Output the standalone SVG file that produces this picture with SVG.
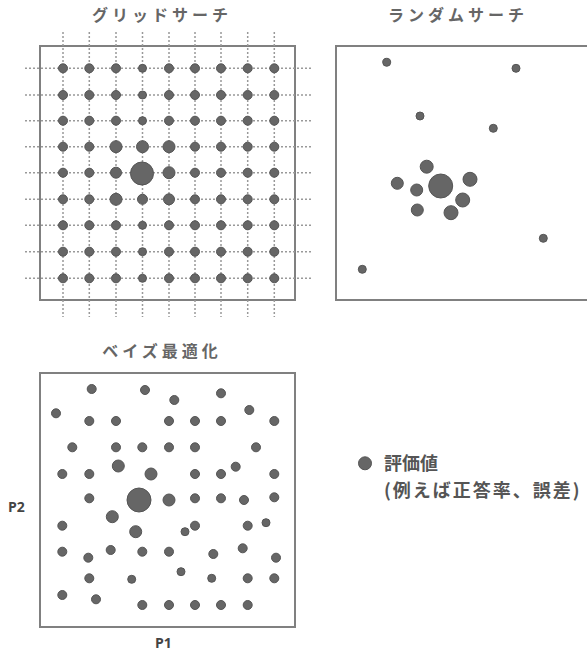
<svg xmlns="http://www.w3.org/2000/svg" width="587" height="654" viewBox="0 0 587 654">
<style>
.bg{fill:#fff}
.frame{fill:none;stroke:#808080;stroke-width:2}
.gl{stroke:#999;stroke-width:1.5;stroke-dasharray:2 2;fill:none}
.d{fill:#666;stroke:#555;stroke-width:1}
.title{font-family:"Noto Sans CJK JP","Noto Sans",sans-serif;font-size:16px;font-weight:700;fill:#666;letter-spacing:4px;text-anchor:middle}
.ax{font-family:"Open Sans","Liberation Sans",sans-serif;font-size:14px;font-weight:700;fill:#444}
.lg{font-family:"Noto Sans CJK JP",sans-serif;font-size:18px;font-weight:700;fill:#555}
</style>
<rect class="bg" x="0" y="0" width="587" height="654"/>

<g id="grid-search">
<text class="title" x="162" y="21">グリッドサーチ</text>
<rect class="frame" x="40" y="46" width="255" height="254"/>
<g id="grid-lines">
<path class="gl" d="M63,32V317M89.3,32V317M116,32V317M142.5,32V317M169,32V317M195,32V317M221,32V317M247.7,32V317M274.3,32V317"/>
<path class="gl" d="M25,68.3H313M25,95H313M25,120.7H313M25,146.7H313M25,172.7H313M25,199.3H313M25,225.3H313M25,251.7H313M25,278.3H313"/>
</g>
<g id="grid-dots">
<circle class="d" cx="63" cy="68.3" r="4.5"/><circle class="d" cx="89.3" cy="68.3" r="4.5"/><circle class="d" cx="116" cy="68.3" r="4.5"/><circle class="d" cx="142.5" cy="68.3" r="4"/><circle class="d" cx="169" cy="68.3" r="4.5"/><circle class="d" cx="195" cy="68.3" r="4.5"/><circle class="d" cx="221" cy="68.3" r="4.5"/><circle class="d" cx="247.7" cy="68.3" r="4.5"/><circle class="d" cx="274.3" cy="68.3" r="4.5"/>
<circle class="d" cx="63" cy="95" r="4.5"/><circle class="d" cx="89.3" cy="95" r="4.5"/><circle class="d" cx="116" cy="95" r="4.5"/><circle class="d" cx="142.5" cy="95" r="4"/><circle class="d" cx="169" cy="95" r="4.5"/><circle class="d" cx="195" cy="95" r="4.5"/><circle class="d" cx="221" cy="95" r="4.5"/><circle class="d" cx="247.7" cy="95" r="4.5"/><circle class="d" cx="274.3" cy="95" r="4.5"/>
<circle class="d" cx="63" cy="120.7" r="4.5"/><circle class="d" cx="89.3" cy="120.7" r="4.5"/><circle class="d" cx="116" cy="120.7" r="4.5"/><circle class="d" cx="142.5" cy="120.7" r="4"/><circle class="d" cx="169" cy="120.7" r="4.5"/><circle class="d" cx="195" cy="120.7" r="4.5"/><circle class="d" cx="221" cy="120.7" r="4.5"/><circle class="d" cx="247.7" cy="120.7" r="4.5"/><circle class="d" cx="274.3" cy="120.7" r="4.5"/>
<circle class="d" cx="63" cy="146.7" r="4.5"/><circle class="d" cx="89.3" cy="146.7" r="4.5"/><circle class="d" cx="116" cy="146.7" r="6"/><circle class="d" cx="142.5" cy="146.7" r="6"/><circle class="d" cx="169" cy="146.7" r="6"/><circle class="d" cx="195" cy="146.7" r="4.5"/><circle class="d" cx="221" cy="146.7" r="4.5"/><circle class="d" cx="247.7" cy="146.7" r="4.5"/><circle class="d" cx="274.3" cy="146.7" r="4.5"/>
<circle class="d" cx="63" cy="172.7" r="4.5"/><circle class="d" cx="89.3" cy="172.7" r="4.5"/><circle class="d" cx="116" cy="172.7" r="5.5"/><circle class="d" cx="142" cy="173.5" r="11.5"/><circle class="d" cx="169" cy="172.7" r="6"/><circle class="d" cx="195" cy="172.7" r="4.5"/><circle class="d" cx="221" cy="172.7" r="4.5"/><circle class="d" cx="247.7" cy="172.7" r="4.5"/><circle class="d" cx="274.3" cy="172.7" r="4.5"/>
<circle class="d" cx="63" cy="199.3" r="4.5"/><circle class="d" cx="89.3" cy="199.3" r="4.5"/><circle class="d" cx="116" cy="199.3" r="6"/><circle class="d" cx="142.5" cy="199.3" r="5"/><circle class="d" cx="169" cy="199.3" r="5.5"/><circle class="d" cx="195" cy="199.3" r="4.5"/><circle class="d" cx="221" cy="199.3" r="4.5"/><circle class="d" cx="247.7" cy="199.3" r="4.5"/><circle class="d" cx="274.3" cy="199.3" r="4.5"/>
<circle class="d" cx="63" cy="225.3" r="4.5"/><circle class="d" cx="89.3" cy="225.3" r="4.5"/><circle class="d" cx="116" cy="225.3" r="4.5"/><circle class="d" cx="142.5" cy="225.3" r="4"/><circle class="d" cx="169" cy="225.3" r="4.5"/><circle class="d" cx="195" cy="225.3" r="4.5"/><circle class="d" cx="221" cy="225.3" r="4.5"/><circle class="d" cx="247.7" cy="225.3" r="4.5"/><circle class="d" cx="274.3" cy="225.3" r="4.5"/>
<circle class="d" cx="63" cy="251.7" r="4.5"/><circle class="d" cx="89.3" cy="251.7" r="4.5"/><circle class="d" cx="116" cy="251.7" r="4.5"/><circle class="d" cx="142.5" cy="251.7" r="4"/><circle class="d" cx="169" cy="251.7" r="4.5"/><circle class="d" cx="195" cy="251.7" r="4.5"/><circle class="d" cx="221" cy="251.7" r="4.5"/><circle class="d" cx="247.7" cy="251.7" r="4.5"/><circle class="d" cx="274.3" cy="251.7" r="4.5"/>
<circle class="d" cx="63" cy="278.3" r="4.5"/><circle class="d" cx="89.3" cy="278.3" r="4.5"/><circle class="d" cx="116" cy="278.3" r="4.5"/><circle class="d" cx="142.5" cy="278.3" r="4"/><circle class="d" cx="169" cy="278.3" r="4.5"/><circle class="d" cx="195" cy="278.3" r="4.5"/><circle class="d" cx="221" cy="278.3" r="4.5"/><circle class="d" cx="247.7" cy="278.3" r="4.5"/><circle class="d" cx="274.3" cy="278.3" r="4.5"/>
</g>
</g>

<g id="random-search">
<text class="title" x="458" y="21">ランダムサーチ</text>
<rect class="frame" x="336" y="46" width="256" height="254"/>
<circle class="d" cx="386.7" cy="62.3" r="4"/>
<circle class="d" cx="516" cy="68.3" r="4"/>
<circle class="d" cx="420" cy="116" r="4"/>
<circle class="d" cx="493.3" cy="128.3" r="4"/>
<circle class="d" cx="426.7" cy="166.7" r="6.5"/>
<circle class="d" cx="397.3" cy="183.3" r="6"/>
<circle class="d" cx="416.7" cy="190" r="6"/>
<circle class="d" cx="440.7" cy="186" r="12"/>
<circle class="d" cx="470" cy="179.3" r="7"/>
<circle class="d" cx="462.7" cy="200" r="7"/>
<circle class="d" cx="417.3" cy="210" r="6"/>
<circle class="d" cx="451" cy="212.7" r="7"/>
<circle class="d" cx="543.3" cy="238.3" r="4"/>
<circle class="d" cx="362.3" cy="269.3" r="4"/>
</g>

<g id="bayes-opt">
<text class="title" x="162" y="357">ベイズ最適化</text>
<rect class="frame" x="40" y="373" width="255" height="254"/>
<circle class="d" cx="91.7" cy="389" r="4.5"/>
<circle class="d" cx="145" cy="390" r="4.5"/>
<circle class="d" cx="174.3" cy="400" r="4.5"/>
<circle class="d" cx="221" cy="393.3" r="4.5"/>
<circle class="d" cx="56" cy="413.3" r="4.5"/>
<circle class="d" cx="249.3" cy="410" r="4.5"/>
<circle class="d" cx="89.3" cy="421" r="4.5"/>
<circle class="d" cx="116" cy="421" r="4.5"/>
<circle class="d" cx="169" cy="421" r="4.5"/>
<circle class="d" cx="195" cy="421" r="4.5"/>
<circle class="d" cx="221" cy="421" r="4.5"/>
<circle class="d" cx="274.3" cy="421" r="4.5"/>
<circle class="d" cx="72.3" cy="447.3" r="4.5"/>
<circle class="d" cx="116" cy="447.3" r="4.5"/>
<circle class="d" cx="142.3" cy="447.3" r="4.5"/>
<circle class="d" cx="169" cy="447.3" r="4.5"/>
<circle class="d" cx="195" cy="447.3" r="4.5"/>
<circle class="d" cx="256" cy="447.3" r="4.5"/>
<circle class="d" cx="62.3" cy="474" r="4.5"/>
<circle class="d" cx="89.3" cy="474" r="4.5"/>
<circle class="d" cx="118.3" cy="466" r="6"/>
<circle class="d" cx="151" cy="474" r="6"/>
<circle class="d" cx="195" cy="474" r="4.5"/>
<circle class="d" cx="221" cy="474" r="4.5"/>
<circle class="d" cx="235.7" cy="466.7" r="4.5"/>
<circle class="d" cx="274.3" cy="474" r="4.5"/>
<circle class="d" cx="89.3" cy="498.3" r="4.5"/>
<circle class="d" cx="139" cy="500" r="12"/>
<circle class="d" cx="169" cy="500" r="6"/>
<circle class="d" cx="195" cy="498.3" r="4.5"/>
<circle class="d" cx="221" cy="498.3" r="4.5"/>
<circle class="d" cx="244" cy="500" r="4.5"/>
<circle class="d" cx="274.3" cy="497.3" r="4.5"/>
<circle class="d" cx="62.3" cy="525.7" r="4.5"/>
<circle class="d" cx="112.3" cy="516.7" r="6"/>
<circle class="d" cx="135.7" cy="531.7" r="6"/>
<circle class="d" cx="185" cy="531.7" r="4"/>
<circle class="d" cx="195" cy="525.7" r="4.5"/>
<circle class="d" cx="247.7" cy="525.7" r="4.5"/>
<circle class="d" cx="266" cy="522.7" r="4"/>
<circle class="d" cx="62.3" cy="551.7" r="4.5"/>
<circle class="d" cx="88.3" cy="557.7" r="4.5"/>
<circle class="d" cx="110.7" cy="550" r="4.5"/>
<circle class="d" cx="142.3" cy="551.7" r="4.5"/>
<circle class="d" cx="169" cy="551.7" r="4.5"/>
<circle class="d" cx="213.3" cy="554" r="4.5"/>
<circle class="d" cx="242.7" cy="548.3" r="4.5"/>
<circle class="d" cx="276" cy="557.7" r="4.5"/>
<circle class="d" cx="89.3" cy="578.3" r="4.5"/>
<circle class="d" cx="131.7" cy="579.3" r="4"/>
<circle class="d" cx="181" cy="571.7" r="4"/>
<circle class="d" cx="211.7" cy="578.3" r="4"/>
<circle class="d" cx="247.7" cy="578.3" r="4.5"/>
<circle class="d" cx="274.3" cy="578.3" r="4.5"/>
<circle class="d" cx="62.3" cy="595" r="4.5"/>
<circle class="d" cx="96" cy="599.3" r="4.5"/>
<circle class="d" cx="142.3" cy="605" r="4.5"/>
<circle class="d" cx="169" cy="605" r="4.5"/>
<circle class="d" cx="195" cy="605" r="4.5"/>
<circle class="d" cx="221" cy="605" r="4.5"/>
<circle class="d" cx="247.7" cy="605" r="4.5"/>
<text class="ax" x="8" y="512">P2</text>
<text class="ax" x="155" y="648">P1</text>
</g>

<g id="legend">
<circle class="d" cx="365" cy="463.3" r="6.5"/>
<text class="lg" x="384" y="470">評価値</text>
<text class="lg" x="384" y="497" letter-spacing="2">(例えば正答率、誤差)</text>
</g>
</svg>
